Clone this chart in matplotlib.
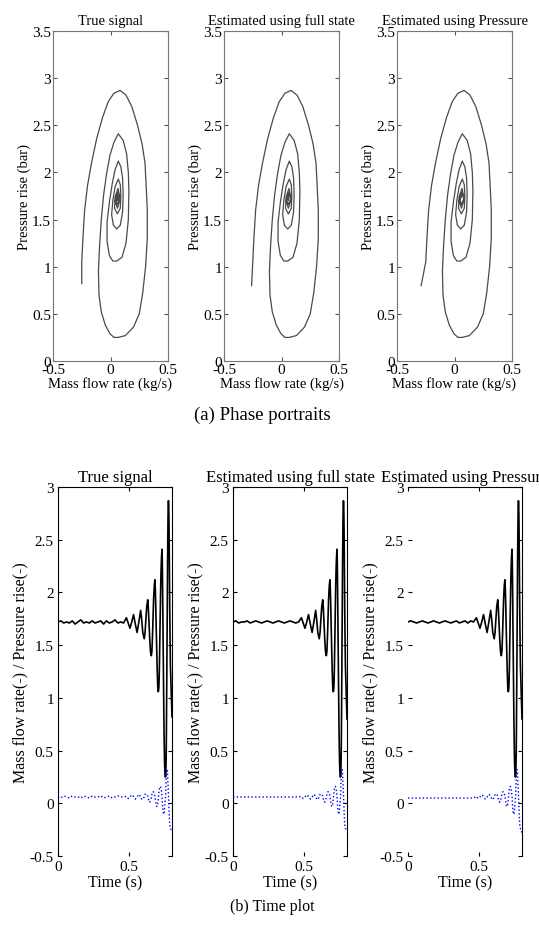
import matplotlib
matplotlib.use('Agg')
import matplotlib.pyplot as plt

plt.rcParams['font.family'] = ['Liberation Serif', 'DejaVu Serif']

# steady part (before surge develops): time, mass flow, pressure rise
t_steady = [0.00, 0.02, 0.04, 0.06, 0.08, 0.10, 0.12, 0.14, 0.16, 0.18, 0.20, 0.22,
            0.24, 0.26, 0.28, 0.30, 0.32, 0.34, 0.36, 0.38, 0.40, 0.42, 0.44, 0.46]
m_steady_true = [0.06, 0.05, 0.07, 0.06, 0.05, 0.07, 0.06, 0.06, 0.05, 0.07, 0.06, 0.05,
                 0.07, 0.06, 0.06, 0.07, 0.05, 0.06, 0.07, 0.05, 0.06, 0.07, 0.06, 0.06]
p_steady_true = [1.72, 1.73, 1.71, 1.72, 1.71, 1.73, 1.70, 1.72, 1.74, 1.71, 1.72, 1.71,
                 1.73, 1.71, 1.72, 1.73, 1.70, 1.73, 1.71, 1.72, 1.74, 1.71, 1.72, 1.71]
m_steady_full = [0.06, 0.06, 0.06, 0.06, 0.06, 0.06, 0.06, 0.06, 0.06, 0.06, 0.06, 0.06,
                 0.06, 0.06, 0.06, 0.06, 0.06, 0.06, 0.06, 0.06, 0.06, 0.06, 0.06, 0.06]
p_steady_full = [1.72, 1.73, 1.71, 1.72, 1.72, 1.73, 1.71, 1.72, 1.73, 1.72, 1.71, 1.72,
                 1.73, 1.72, 1.71, 1.72, 1.73, 1.72, 1.71, 1.72, 1.73, 1.72, 1.71, 1.72]
m_steady_pres = [0.05, 0.05, 0.05, 0.05, 0.05, 0.05, 0.05, 0.05, 0.05, 0.05, 0.05, 0.05,
                 0.05, 0.05, 0.05, 0.05, 0.05, 0.05, 0.05, 0.05, 0.05, 0.05, 0.05, 0.05]
p_steady_pres = [1.72, 1.73, 1.72, 1.71, 1.72, 1.73, 1.72, 1.71, 1.72, 1.73, 1.72, 1.71,
                 1.72, 1.73, 1.72, 1.71, 1.72, 1.73, 1.71, 1.72, 1.73, 1.71, 1.73, 1.72]

# growing surge oscillation (spiral), read from the phase portrait
t_osc = [0.48, 0.4925, 0.505, 0.5175, 0.53, 0.5425, 0.555, 0.5675,
         0.58, 0.5875, 0.595, 0.605, 0.611, 0.617, 0.623,
         0.63, 0.634, 0.639, 0.644, 0.649, 0.655, 0.659, 0.663, 0.667, 0.671, 0.6755,
         0.68, 0.683, 0.686, 0.689, 0.6925, 0.696, 0.6995, 0.702,
         0.705, 0.708, 0.711, 0.714, 0.7175, 0.720, 0.723, 0.7265,
         0.73, 0.7315, 0.733, 0.7345, 0.736, 0.738, 0.740, 0.742, 0.744, 0.746, 0.748, 0.7505, 0.7525,
         0.755, 0.7565, 0.758, 0.7595, 0.761, 0.7625, 0.764, 0.7655, 0.767, 0.768, 0.769, 0.7705, 0.772, 0.7735,
         0.775, 0.7765, 0.778, 0.7795, 0.781, 0.7825, 0.784, 0.786, 0.789, 0.7945]
m_osc = [0.065, 0.045, 0.06, 0.08, 0.065, 0.04, 0.06, 0.085,
         0.065, 0.04, 0.035, 0.06, 0.085, 0.09, 0.085,
         0.068, 0.04, 0.02, 0.01, 0.025, 0.054, 0.085, 0.105, 0.11, 0.105, 0.09,
         0.068, 0.04, 0.015, -0.01, -0.03, -0.03, -0.01, 0.02,
         0.054, 0.10, 0.135, 0.155, 0.16, 0.155, 0.14, 0.11,
         0.068, 0.03, -0.005, -0.035, -0.06, -0.08, -0.095, -0.105, -0.10, -0.08, -0.045, -0.005, 0.03,
         0.068, 0.13, 0.20, 0.25, 0.28, 0.305, 0.32, 0.32, 0.31, 0.30, 0.275, 0.235, 0.185, 0.135,
         0.083, 0.03, -0.02, -0.07, -0.12, -0.165, -0.20, -0.225, -0.24, -0.25]
p_osc = [1.76, 1.71, 1.66, 1.72, 1.79, 1.70, 1.62, 1.72,
         1.83, 1.74, 1.62, 1.56, 1.62, 1.75, 1.87,
         1.93, 1.85, 1.70, 1.55, 1.44, 1.40, 1.44, 1.58, 1.76, 1.94, 2.06,
         2.12, 2.03, 1.88, 1.68, 1.47, 1.27, 1.12, 1.06,
         1.06, 1.10, 1.25, 1.50, 1.80, 2.00, 2.20, 2.34,
         2.41, 2.32, 2.18, 1.98, 1.76, 1.50, 1.22, 0.95, 0.70, 0.52, 0.38, 0.29, 0.25,
         0.25, 0.27, 0.36, 0.50, 0.72, 1.00, 1.30, 1.60, 1.86, 2.10, 2.30, 2.50, 2.70, 2.82,
         2.87, 2.84, 2.75, 2.58, 2.36, 2.10, 1.86, 1.60, 1.30, 1.05]

# last sample of each run (t, mass flow, pressure)
t_end = 0.80
m_end = [-0.25, -0.26, -0.29]
p_end = [0.82, 0.80, 0.80]

titles = ['True signal', 'Estimated using full state', 'Estimated using Pressure']
m_steady = [m_steady_true, m_steady_full, m_steady_pres]
p_steady = [p_steady_true, p_steady_full, p_steady_pres]

W, H = 539, 928
fig = plt.figure(figsize=(W / 100, H / 100), dpi=100)

top_left = [53, 224, 397]
bot_left = [58, 233, 408]

for i in range(3):
    t = t_steady + t_osc + [t_end]
    m = m_steady[i] + m_osc + [m_end[i]]
    p = p_steady[i] + p_osc + [p_end[i]]

    # phase portrait
    ax = fig.add_axes([top_left[i] / W, 1 - 362 / H, 115 / W, 330 / H])
    ax.plot(m, p, color='#4a4a4a', lw=0.9)
    ax.set_xlim(-0.5, 0.5)
    ax.set_ylim(0, 3.5)
    ax.set_xticks([-0.5, 0, 0.5])
    ax.set_xticklabels(['-0.5', '0', '0.5'])
    ax.set_yticks([0, 0.5, 1, 1.5, 2, 2.5, 3, 3.5])
    ax.set_yticklabels(['0', '0.5', '1', '1.5', '2', '2.5', '3', '3.5'])
    ax.tick_params(direction='in', top=True, right=True, length=3, labelsize=11,
                   pad=1.5, color='#555555')
    for s in ax.spines.values():
        s.set_color('#777777')
        s.set_linewidth(0.8)
    ax.set_title(titles[i], fontsize=10.5, pad=5)
    ax.set_xlabel('Mass flow rate (kg/s)', fontsize=10.5, labelpad=0)
    ax.set_ylabel('Pressure rise (bar)', fontsize=10.5, labelpad=1)

    # time plot
    ax2 = fig.add_axes([bot_left[i] / W, 1 - 857 / H, 114 / W, 369 / H])
    ax2.plot(t, p, color='black', lw=1.2)
    ax2.plot(t, m, color='blue', lw=1.0, ls=':')
    ax2.set_xlim(0, 0.8)
    ax2.set_ylim(-0.5, 3)
    ax2.set_xticks([0, 0.5])
    ax2.set_xticklabels(['0', '0.5'])
    ax2.set_yticks([-0.5, 0, 0.5, 1, 1.5, 2, 2.5, 3])
    ax2.set_yticklabels(['-0.5', '0', '0.5', '1', '1.5', '2', '2.5', '3'])
    ax2.tick_params(direction='in', top=True, right=True, length=3, labelsize=11, pad=3)
    ax2.spines['bottom'].set_visible(False)
    if i == 2:
        ax2.spines['left'].set_visible(False)
    ax2.set_title(titles[i], fontsize=12, pad=4)
    ax2.set_xlabel('Time (s)', fontsize=11.5, labelpad=1)
    ax2.set_ylabel('Mass flow rate(-) / Pressure rise(-)', fontsize=11.5, labelpad=1)

fig.text(262 / W, 1 - 415 / H, '(a) Phase portraits', ha='center', va='center', fontsize=13.5)
fig.text(272 / W, 1 - 907 / H, '(b) Time plot', ha='center', va='center', fontsize=11.5)

fig.savefig('out.png', dpi=100)
